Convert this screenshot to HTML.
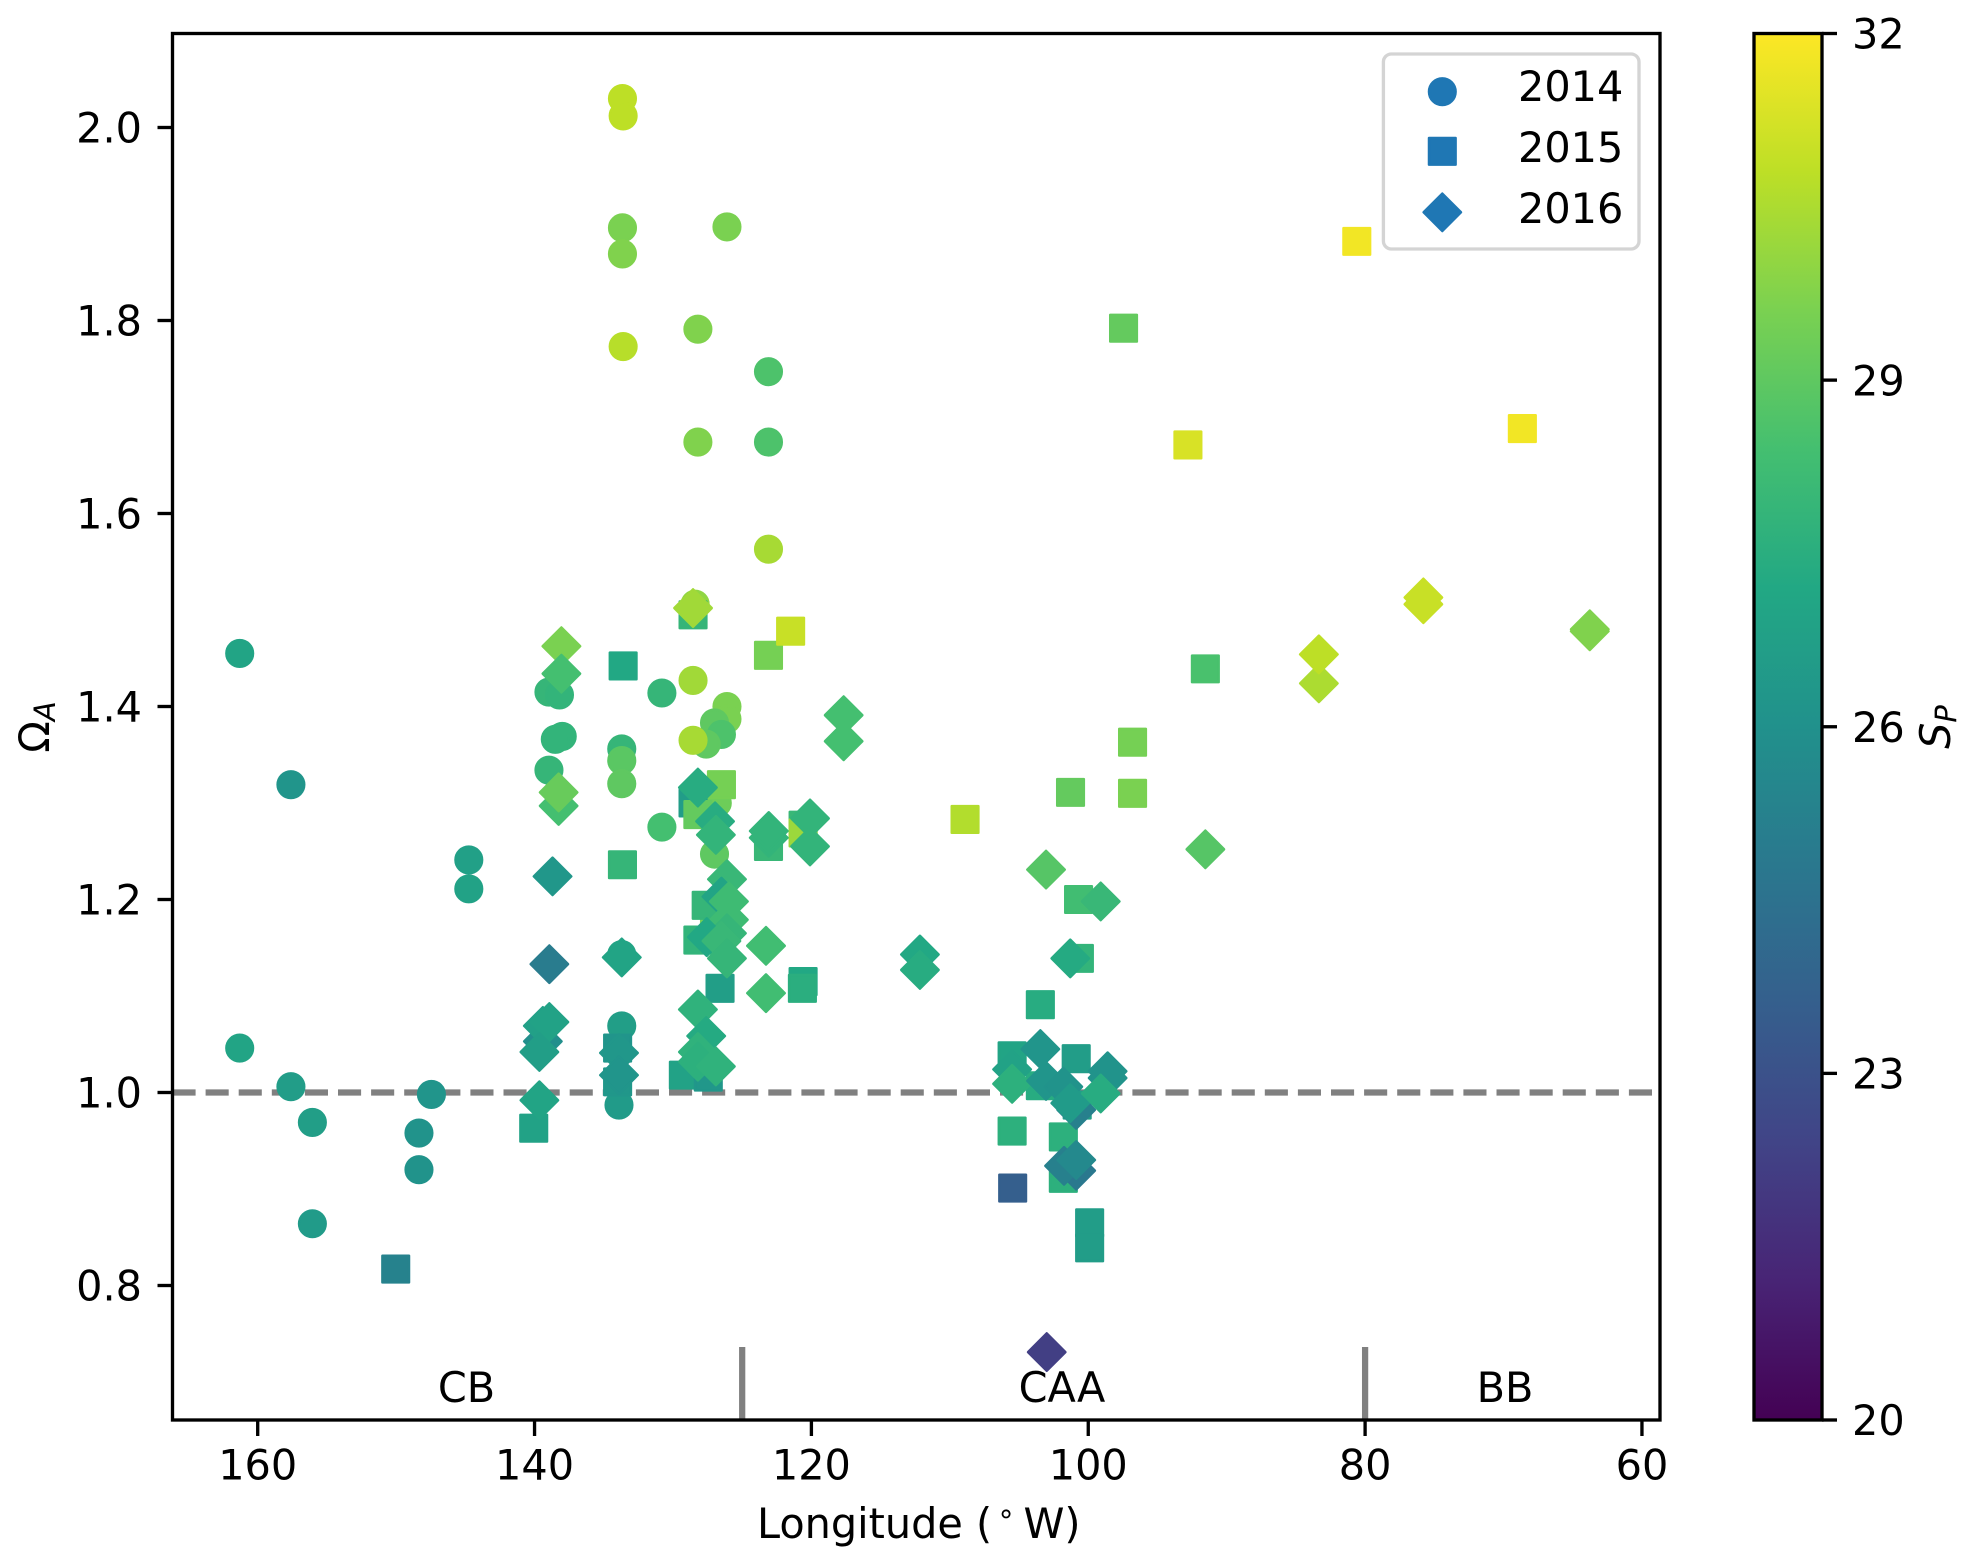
<!DOCTYPE html>
<html lang="en">
<head>
<meta charset="utf-8">
<title>Aragonite saturation versus longitude</title>
<style>
html,body{margin:0;padding:0;background:#fff;}
svg{display:block;}
text{font-family:"DejaVu Sans","Liberation Sans",sans-serif;font-size:41.4px;fill:#000;}
</style>
</head>
<body>
<svg id="figure" xmlns="http://www.w3.org/2000/svg" width="1976" height="1565" viewBox="0 0 1976 1565">
  <defs>
    <linearGradient id="viridis-gradient" x1="0" y1="1" x2="0" y2="0"></linearGradient>
    <clipPath id="plot-clip"><rect x="172.5" y="33.5" width="1487.5" height="1386.5"></rect></clipPath>
  </defs>
  <rect x="0" y="0" width="1976" height="1565" fill="#fff"></rect>
  <g id="plot-area" clip-path="url(#plot-clip)"></g>
  <rect x="172.5" y="33.5" width="1487.5" height="1386.5" fill="none" stroke="#000" stroke-width="3.33"></rect>
  <g id="x-ticks"></g>
  <g id="y-ticks"></g>
  <text x="757" y="1538">Longitude (<tspan x="997" dy="-15" font-size="29">∘</tspan><tspan x="1023.5" dy="15">W)</tspan></text>
  <text transform="translate(49,727) rotate(-90)" text-anchor="middle">Ω<tspan font-style="italic" font-size="29" dy="6">A</tspan></text>
  <text x="466.5" y="1402" text-anchor="middle">CB</text>
  <text x="1062" y="1402" text-anchor="middle">CAA</text>
  <text x="1505" y="1402" text-anchor="middle">BB</text>

  <g>
    <rect x="1383.4" y="54" width="255.6" height="195" rx="8" ry="8" fill="#fff" fill-opacity="0.8" stroke="#ccc" stroke-opacity="0.85" stroke-width="3.33"></rect>
    <g>
      <circle cx="1442.3" cy="91.7" r="13.3" fill="#1f77b4" stroke="#1f77b4" stroke-width="2.5"></circle>
      <text x="1518" y="101">2014</text>
    </g>
    <g>
      <rect x="1429" y="138" width="26.6" height="26.6" fill="#1f77b4" stroke="#1f77b4" stroke-width="2.5" stroke-linejoin="round"></rect>
      <text x="1518" y="162">2015</text>
    </g>
    <g>
      <path d="M1442.3 193.6L1461 212.3L1442.3 231L1423.6 212.3Z" fill="#1f77b4" stroke="#1f77b4" stroke-width="2.5" stroke-linejoin="round"></path>
      <text x="1518" y="223">2016</text>
    </g>
  </g>

  <g>
    <rect x="1754" y="33.5" width="68" height="1386.5" fill="url(#viridis-gradient)"></rect>
    <rect x="1754" y="33.5" width="68" height="1386.5" fill="none" stroke="#000" stroke-width="3.33"></rect>
    <g id="colorbar-ticks"></g>
    <text transform="translate(1950,727) rotate(-90)" text-anchor="middle" font-style="italic">S<tspan font-size="29" dy="6">P</tspan></text>
  </g>
</svg>
<script>
// Tick labels
const xTicks = [160, 140, 120, 100, 80, 60];
const yTicks = [0.8, 1.0, 1.2, 1.4, 1.6, 1.8, 2.0];
const colorTicks = [20, 23, 26, 29, 32];

// Reference lines
const referenceOmega = [1.0];
const regionBoundaries = [125, 80];

// 2014 series (circles)
const lon2014 = [133.65,133.6,133.65,133.65,126.1,133.6,128.2,123.1,128.2,123.1,123.1,128.4,161.3,138.96,138.2,130.8,128.55,126.1,126.1,127.0,126.5,127.6,128.55,138.0,138.5,138.96,133.7,133.7,133.7,130.8,127.0,126.8,157.6,144.75,144.75,161.3,157.6,156.05,156.05,147.45,148.35,148.35,133.7,133.9,133.7];
const omega2014 = [2.03,2.012,1.896,1.869,1.897,1.773,1.791,1.747,1.674,1.674,1.563,1.506,1.455,1.415,1.412,1.414,1.427,1.4,1.387,1.383,1.371,1.361,1.365,1.369,1.366,1.334,1.356,1.344,1.32,1.275,1.247,1.3,1.319,1.241,1.211,1.046,1.006,0.969,0.864,0.998,0.958,0.92,1.069,0.987,1.143];
const sal2014 = [30.8,30.8,29.6,29.7,29.6,30.7,29.7,28.6,29.7,28.6,30.4,30.0,27.0,27.9,27.8,27.9,30.3,29.6,29.6,29.0,28.6,29.0,30.4,27.8,27.8,27.9,27.9,28.9,29.0,28.4,29.0,29.3,26.2,26.8,26.9,27.0,26.6,26.7,26.5,26.2,26.1,26.1,26.7,26.5,27.0];

// 2015 series (squares)
const lon2015 = [128.55,133.6,123.1,121.5,126.5,128.55,128.2,123.1,120.6,120.6,133.65,127.0,127.6,128.2,126.6,120.6,120.65,129.25,127.45,140.06,150.03,134,134,80.6,97.45,92.8,68.64,91.54,96.8,101.28,96.8,100.7,100.64,103.46,105.5,100.87,103.46,105.5,101.8,101.8,105.46,99.9,99.9,100.8,108.9];
const omega2015 = [1.495,1.442,1.453,1.478,1.319,1.3,1.288,1.255,1.277,1.269,1.236,1.186,1.194,1.158,1.108,1.115,1.108,1.018,1.016,0.963,0.817,1.046,1.011,1.882,1.792,1.671,1.688,1.439,1.363,1.311,1.31,1.2,1.139,1.091,1.038,1.035,1.007,0.96,0.954,0.911,0.901,0.865,0.839,0.987,1.283];
const sal2015 = [27.9,27.2,29.5,31.0,29.5,26.6,29.1,28.0,28.0,30.2,27.9,29.5,27.9,27.8,26.7,27.2,27.5,26.9,26.3,26.9,25.3,26.2,26.3,31.8,29.1,31.3,31.8,28.5,29.5,29.1,29.6,28.3,27.8,27.4,27.0,26.6,27.4,27.6,27.6,27.6,23.6,26.6,26.6,26.8,30.6];

// 2016 series (diamonds)
const lon2016 = [128.55,138.06,138.06,117.67,117.67,138.26,138.26,138.7,128.2,126.96,126.9,123.08,123.08,120.1,120.1,126.1,126.5,125.96,125.96,126.1,127.56,126.5,126.1,123.28,123.28,128.2,127.6,128.2,128.2,126.9,112.16,112.16,138.93,133.7,139.4,139.4,138.93,139.65,139.65,133.9,133.9,103.05,91.54,99.1,101.3,103.46,105.5,105.5,103.05,98.6,98.6,101.8,100.87,101.3,99.1,100.87,101.75,100.87,103.0,75.79,75.79,83.34,83.34,63.77,63.77];
const omega2016 = [1.502,1.4625,1.434,1.391,1.364,1.297,1.311,1.224,1.316,1.281,1.267,1.264,1.271,1.284,1.255,1.221,1.203,1.198,1.179,1.165,1.161,1.157,1.139,1.152,1.103,1.086,1.0585,1.042,1.032,1.027,1.143,1.127,1.133,1.14,1.053,1.069,1.073,1.042,0.992,1.041,1.018,1.231,1.252,1.198,1.139,1.045,1.024,1.009,1.012,1.022,1.015,1.006,0.982,0.989,0.999,0.919,0.924,0.93,0.731,1.506,1.513,1.424,1.454,1.478,1.48];
const sal2016 = [30.3,29.6,28.4,28.4,28.4,28.4,29.2,26.3,27.4,27.4,27.8,27.8,27.8,27.8,27.8,28.0,27.0,28.2,28.2,27.9,27.2,28.0,27.9,28.3,28.3,27.7,27.3,27.7,27.6,27.7,27.2,27.4,25.0,27.0,25.9,26.8,26.9,26.7,27.0,26.3,26.2,28.8,28.8,28.0,27.3,26.2,26.9,27.6,26.2,26.1,26.1,26.1,25.2,26.5,27.4,24.8,25.2,25.6,22.2,31.0,31.0,30.5,30.8,29.7,29.7];

// Colormap definition
const viridisStops = ["#440154","#482475","#414487","#355f8d","#2a788e","#21918c","#22a884","#44bf70","#7ad151","#bddf26","#fde725"];
const salinityRange = [20, 32];

const SVG_NS = "http://www.w3.org/2000/svg";
const axisLeft = 172.5, axisRight = 1660, axisTop = 33.5, axisBottom = 1420;

function xScale(lon) { return 257.7 + (160 - lon) * 13.8425; }
function yScale(omega) { return 1092.5 - (omega - 1) * 965; }
function colorbarY(sal) {
  return axisBottom - (sal - salinityRange[0]) / (salinityRange[1] - salinityRange[0]) * (axisBottom - axisTop);
}
function hexToRgb(hex) {
  return [parseInt(hex.slice(1, 3), 16), parseInt(hex.slice(3, 5), 16), parseInt(hex.slice(5, 7), 16)];
}
function salColor(sal) {
  let t = (sal - salinityRange[0]) / (salinityRange[1] - salinityRange[0]);
  t = Math.max(0, Math.min(1, t)) * (viridisStops.length - 1);
  const i = Math.min(Math.floor(t), viridisStops.length - 2);
  const a = hexToRgb(viridisStops[i]), b = hexToRgb(viridisStops[i + 1]), f = t - i;
  return "rgb(" + a.map(function (v, k) { return Math.round(v + (b[k] - v) * f); }).join(",") + ")";
}
function make(tag, attrs) {
  const el = document.createElementNS(SVG_NS, tag);
  Object.keys(attrs).forEach(function (k) { el.setAttribute(k, attrs[k]); });
  return el;
}

const plotArea = document.getElementById("plot-area");
const xTickGroup = document.getElementById("x-ticks");
const yTickGroup = document.getElementById("y-ticks");
const colorTickGroup = document.getElementById("colorbar-ticks");
const gradient = document.getElementById("viridis-gradient");

viridisStops.forEach(function (c, i) {
  const stop = make("stop", { offset: i / (viridisStops.length - 1), "stop-color": c });
  gradient.appendChild(stop);
});

// Markers
function drawSeries(lons, omegas, sals, kind) {
  lons.forEach(function (lon, i) {
    const cx = xScale(lon), cy = yScale(omegas[i]), fill = salColor(sals[i]);
    let mark;
    if (kind === "circle") {
      mark = make("circle", { cx: cx, cy: cy, r: 13.3 });
    } else if (kind === "square") {
      mark = make("rect", { x: cx - 13.3, y: cy - 13.3, width: 26.6, height: 26.6 });
    } else {
      const h = 18.7;
      mark = make("path", { d: "M" + cx + " " + (cy - h) + "L" + (cx + h) + " " + cy + "L" + cx + " " + (cy + h) + "L" + (cx - h) + " " + cy + "Z" });
    }
    mark.setAttribute("fill", fill);
    mark.setAttribute("stroke", fill);
    mark.setAttribute("stroke-width", "2.5");
    mark.setAttribute("stroke-linejoin", "round");
    
    
    plotArea.appendChild(mark);
  });
}

// Reference lines sit beneath the markers
referenceOmega.forEach(function (v) {
  const line = make("line", { x1: axisLeft, x2: axisRight, y1: yScale(v), y2: yScale(v), stroke: "#808080", "stroke-width": 6.25, "stroke-dasharray": "23.1 10" });
  
  
  plotArea.appendChild(line);
});
regionBoundaries.forEach(function (lon) {
  const line = make("line", { x1: xScale(lon), x2: xScale(lon), y1: 1347, y2: axisBottom, stroke: "#808080", "stroke-width": 6.25 });
  
  
  plotArea.appendChild(line);
});

drawSeries(lon2014, omega2014, sal2014, "circle");
drawSeries(lon2015, omega2015, sal2015, "square");
drawSeries(lon2016, omega2016, sal2016, "diamond");

// X axis
xTicks.forEach(function (v) {
  const x = xScale(v);
  const tick = make("line", { x1: x, x2: x, y1: axisBottom, y2: axisBottom + 16, stroke: "#000", "stroke-width": 3.33 });
  
  
  xTickGroup.appendChild(tick);
  const label = make("text", { x: x, y: 1479.5, "text-anchor": "middle" });
  
  
  label.textContent = String(v);
  xTickGroup.appendChild(label);
});

// Y axis
yTicks.forEach(function (v) {
  const y = yScale(v);
  const tick = make("line", { x1: axisLeft - 15, x2: axisLeft, y1: y, y2: y, stroke: "#000", "stroke-width": 3.33 });
  
  
  yTickGroup.appendChild(tick);
  const label = make("text", { x: 142, y: y + 15.2, "text-anchor": "end" });
  
  
  label.textContent = v.toFixed(1);
  yTickGroup.appendChild(label);
});

// Colorbar axis
colorTicks.forEach(function (v) {
  const y = colorbarY(v);
  const tick = make("line", { x1: 1822, x2: 1837, y1: y, y2: y, stroke: "#000", "stroke-width": 3.33 });
  
  
  colorTickGroup.appendChild(tick);
  const label = make("text", { x: 1852, y: y + 15.2 });
  
  
  label.textContent = String(v);
  colorTickGroup.appendChild(label);
});
</script>
</body>
</html>
